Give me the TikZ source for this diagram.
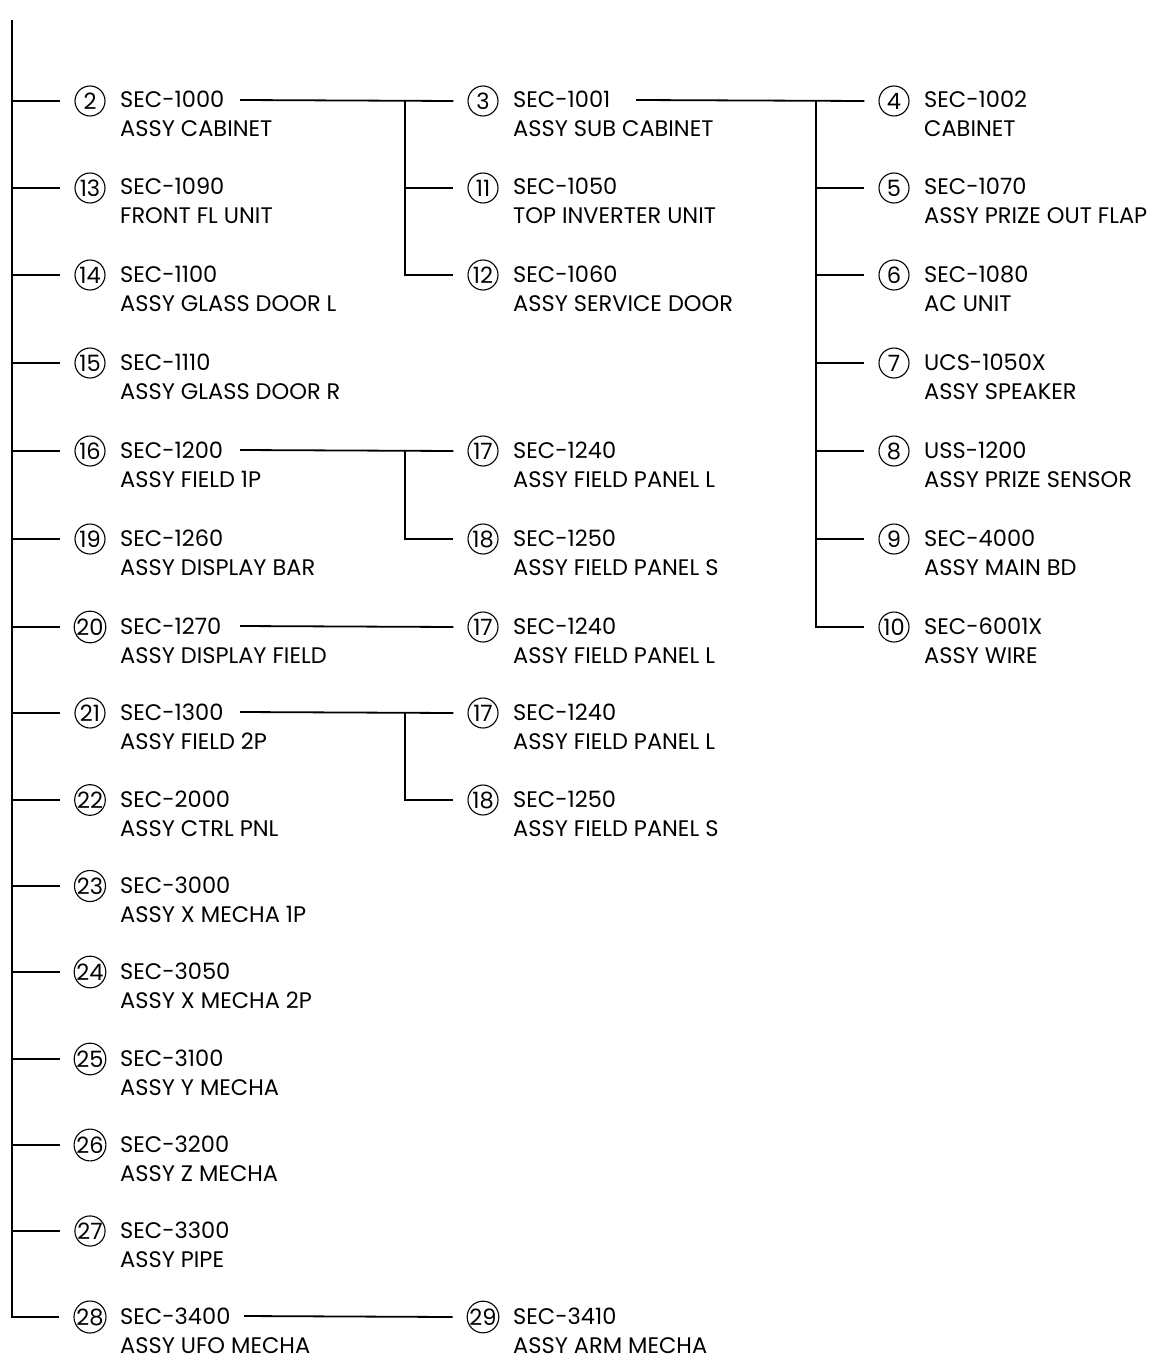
\documentclass[tikz,border=0pt]{standalone}
\usepackage{fontspec}
\setmainfont{Poppins}
\newcommand\pitem[6]{% #1 name, #2 bus x, #3 row y, #4 number, #5 code, #6 description
  \node[numc] (c#1) at (#2+78,#3+1) {#4};
  \node[lbl] (t#1) at (#2+108,#3+37) {#5\\#6};
}
\begin{document}
\begin{tikzpicture}[x=1pt,y=-1pt,
  numc/.style={circle,draw,line width=1.1pt,minimum size=30pt,inner sep=0pt,font=\fontsize{22.5}{22.5}\selectfont},
  lbl/.style={anchor=base west,align=left,inner sep=0pt,text depth=0pt,font=\fontsize{22.5}{29}\selectfont},
  ln/.style={line width=1.8pt}]
\useasboundingbox (0,0) rectangle (1160,1356);
% column 1
\pitem{2}{12}{100}{2}{SEC-1000}{ASSY CABINET}
\pitem{13}{12}{187}{13}{SEC-1090}{FRONT FL UNIT}
\pitem{14}{12}{274}{14}{SEC-1100}{ASSY GLASS DOOR L}
\pitem{15}{12}{362}{15}{SEC-1110}{ASSY GLASS DOOR R}
\pitem{16}{12}{450}{16}{SEC-1200}{ASSY FIELD 1P}
\pitem{19}{12}{538}{19}{SEC-1260}{ASSY DISPLAY BAR}
\pitem{20}{12}{626}{20}{SEC-1270}{ASSY DISPLAY FIELD}
\pitem{21}{12}{712}{21}{SEC-1300}{ASSY FIELD 2P}
\pitem{22}{12}{799}{22}{SEC-2000}{ASSY CTRL PNL}
\pitem{23}{12}{885}{23}{SEC-3000}{ASSY X MECHA 1P}
\pitem{24}{12}{971}{24}{SEC-3050}{ASSY X MECHA 2P}
\pitem{25}{12}{1058}{25}{SEC-3100}{ASSY Y MECHA}
\pitem{26}{12}{1144}{26}{SEC-3200}{ASSY Z MECHA}
\pitem{27}{12}{1230}{27}{SEC-3300}{ASSY PIPE}
\pitem{28}{12}{1316}{28}{SEC-3400}{ASSY UFO MECHA}
% column 2
\pitem{3}{405}{100}{3}{SEC-1001}{ASSY SUB CABINET}
\pitem{11}{405}{187}{11}{SEC-1050}{TOP INVERTER UNIT}
\pitem{12}{405}{274}{12}{SEC-1060}{ASSY SERVICE DOOR}
\pitem{17a}{405}{450}{17}{SEC-1240}{ASSY FIELD PANEL L}
\pitem{18a}{405}{538}{18}{SEC-1250}{ASSY FIELD PANEL S}
\pitem{17b}{405}{626}{17}{SEC-1240}{ASSY FIELD PANEL L}
\pitem{17c}{405}{712}{17}{SEC-1240}{ASSY FIELD PANEL L}
\pitem{18c}{405}{799}{18}{SEC-1250}{ASSY FIELD PANEL S}
\pitem{29}{405}{1316}{29}{SEC-3410}{ASSY ARM MECHA}
% column 3
\pitem{4}{816}{100}{4}{SEC-1002}{CABINET}
\pitem{5}{816}{187}{5}{SEC-1070}{ASSY PRIZE OUT FLAP}
\pitem{6}{816}{274}{6}{SEC-1080}{AC UNIT}
\pitem{7}{816}{362}{7}{UCS-1050X}{ASSY SPEAKER}
\pitem{8}{816}{450}{8}{USS-1200}{ASSY PRIZE SENSOR}
\pitem{9}{816}{538}{9}{SEC-4000}{ASSY MAIN BD}
\pitem{10}{816}{626}{10}{SEC-6001X}{ASSY WIRE}
% bus coordinates and line starts
\coordinate (b1) at (12,20);
\coordinate (b2) at (405,100);
\coordinate (b3) at (816,100);
\coordinate (b4) at (405,450);
\coordinate (b5) at (405,712);
\coordinate (s2) at (240,100);
\coordinate (s3) at (636,100);
\coordinate (s16) at (240,450);
\coordinate (s20) at (240,626);
\coordinate (s21) at (240,712);
\coordinate (s28) at (244,1316);
% main bus
\draw[ln] (b1) |- ([xshift=-14pt]c28.west);
\foreach \n in {2,13,14,15,16,19,20,21,22,23,24,25,26,27}
  \draw[ln] (b1 |- c\n) -- ([xshift=-14pt]c\n.west);
% sub-assemblies of 2
\draw[ln] (s2) -- ([xshift=-14pt]c3.west);
\draw[ln] (b2) |- ([xshift=-14pt]c12.west);
\draw[ln] (b2 |- c11) -- ([xshift=-14pt]c11.west);
% sub-assemblies of 3
\draw[ln] (s3) -- ([xshift=-14pt]c4.west);
\draw[ln] (b3) |- ([xshift=-14pt]c10.west);
\foreach \n in {5,6,7,8,9}
  \draw[ln] (b3 |- c\n) -- ([xshift=-14pt]c\n.west);
% sub-assemblies of 16
\draw[ln] (s16) -- ([xshift=-14pt]c17a.west);
\draw[ln] (b4) |- ([xshift=-14pt]c18a.west);
% sub-assembly of 20
\draw[ln] (s20) -- ([xshift=-14pt]c17b.west);
% sub-assemblies of 21
\draw[ln] (s21) -- ([xshift=-14pt]c17c.west);
\draw[ln] (b5) |- ([xshift=-14pt]c18c.west);
% sub-assembly of 28
\draw[ln] (s28) -- ([xshift=-14pt]c29.west);
\end{tikzpicture}
\end{document}
